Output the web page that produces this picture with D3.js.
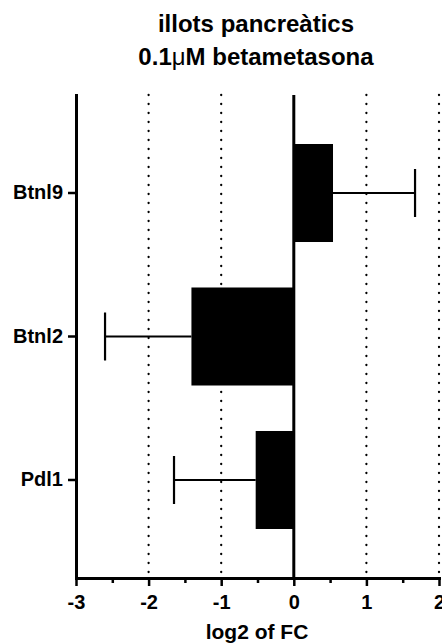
<!DOCTYPE html>
<html>
<head>
<meta charset="utf-8">
<script src="https://cdn.jsdelivr.net/npm/d3@7"></script>
<style>
  body { margin: 0; background: #fff; }
  svg { display: block; }
  text { font-family: "Liberation Sans", Arial, sans-serif; font-weight: bold; fill: #000; }
</style>
</head>
<body>
<div id="container"></div>
<script>
/* DATA */
const genes = ["Btnl9", "Btnl2", "Pdl1"];
const log2FC = [0.54, -1.41, -0.525];
const errFC = [1.13, 1.19, 1.125];
const majorTicks = [-3, -2, -1, 0, 1, 2];
const minorTicks = [-2.5, -1.5, -0.5, 0.5, 1.5];
const gridTicks = [-2, -1, 1, 2];

/* CONSTANTS */
const width = 442,
  height = 643,
  margin = { top: 95, bottom: 65, left: 76, right: 3 };

const svg = d3.select("#container")
  .append("svg")
  .attr("width", width)
  .attr("height", height);

/* SCALES */
const xScale = d3.scaleLinear()
  .domain([-3, 2])
  .range([margin.left, width - margin.right]);

const yScale = d3.scaleBand()
  .domain(genes)
  .range([margin.top, height - margin.bottom])
  .paddingInner(0.317)
  .paddingOuter(0.3415);

const y0 = margin.top, y1 = height - margin.bottom;

// dotted grid lines
svg.append("g")
  .selectAll("line")
  .data(gridTicks)
  .join("line")
  .attr("x1", d => xScale(d))
  .attr("x2", d => xScale(d))
  .attr("y1", y0)
  .attr("y2", y1)
  .attr("stroke", "#000")
  .attr("stroke-width", 2.3)
  .attr("stroke-linecap", "round")
  .attr("stroke-dasharray", "0,9");

const rows = genes.map((g, i) => ({ gene: g, v: log2FC[i], e: errFC[i] }));

// error bars (one-sided, away from zero)
const eb = svg.append("g").attr("stroke", "#000").attr("stroke-width", 2.2);
eb.selectAll(".stem")
  .data(rows)
  .join("line")
  .attr("x1", d => xScale(d.v))
  .attr("x2", d => xScale(d.v + Math.sign(d.v) * d.e))
  .attr("y1", d => yScale(d.gene) + yScale.bandwidth() / 2)
  .attr("y2", d => yScale(d.gene) + yScale.bandwidth() / 2);
eb.selectAll(".cap")
  .data(rows)
  .join("line")
  .attr("x1", d => xScale(d.v + Math.sign(d.v) * d.e))
  .attr("x2", d => xScale(d.v + Math.sign(d.v) * d.e))
  .attr("y1", d => yScale(d.gene) + yScale.bandwidth() / 2 - 24)
  .attr("y2", d => yScale(d.gene) + yScale.bandwidth() / 2 + 24);

// bars
svg.append("g")
  .selectAll("rect")
  .data(rows)
  .join("rect")
  .attr("x", d => xScale(Math.min(0, d.v)))
  .attr("width", d => Math.abs(xScale(d.v) - xScale(0)))
  .attr("y", d => yScale(d.gene))
  .attr("height", yScale.bandwidth())
  .attr("fill", "#000");

// zero line
svg.append("line")
  .attr("x1", xScale(0)).attr("x2", xScale(0))
  .attr("y1", y0).attr("y2", y1)
  .attr("stroke", "#000")
  .attr("stroke-width", 3);

/* AXES */
const xAxis = d3.axisBottom(xScale)
  .tickValues(majorTicks)
  .tickFormat(d3.format("d"))
  .tickSize(8)
  .tickSizeOuter(0)
  .tickPadding(9);
const gx = svg.append("g")
  .attr("transform", `translate(0, ${y1})`)
  .call(xAxis);
gx.selectAll("text").attr("font-size", 20).text(d => d < 0 ? "-" + Math.abs(d) : d);

const gxMinor = svg.append("g")
  .attr("transform", `translate(0, ${y1})`)
  .call(d3.axisBottom(xScale).tickValues(minorTicks).tickSize(5).tickFormat(""));
gxMinor.select(".domain").remove();

const yAxis = d3.axisLeft(yScale)
  .tickSize(8)
  .tickSizeOuter(0)
  .tickPadding(5);
const gy = svg.append("g")
  .attr("transform", `translate(${margin.left}, 0)`)
  .call(yAxis);
gy.selectAll("text").attr("font-size", 20);

svg.selectAll(".domain").attr("stroke-width", 3).attr("stroke-linecap", "square");
svg.selectAll(".tick line").attr("stroke-width", 2.5);

/* TITLES */
svg.append("text")
  .attr("x", 256).attr("y", 32)
  .attr("text-anchor", "middle")
  .attr("font-size", 24)
  .text("illots pancreàtics");
const t2 = svg.append("text")
  .attr("x", 256).attr("y", 65)
  .attr("text-anchor", "middle")
  .attr("font-size", 24);
t2.append("tspan").text("0.1");
t2.append("tspan").attr("font-weight", "normal").text("μ");
t2.append("tspan").text("M betametasona");

svg.append("text")
  .attr("x", 257).attr("y", 639)
  .attr("text-anchor", "middle")
  .attr("font-size", 21)
  .text("log2 of FC");
</script>
</body>
</html>
